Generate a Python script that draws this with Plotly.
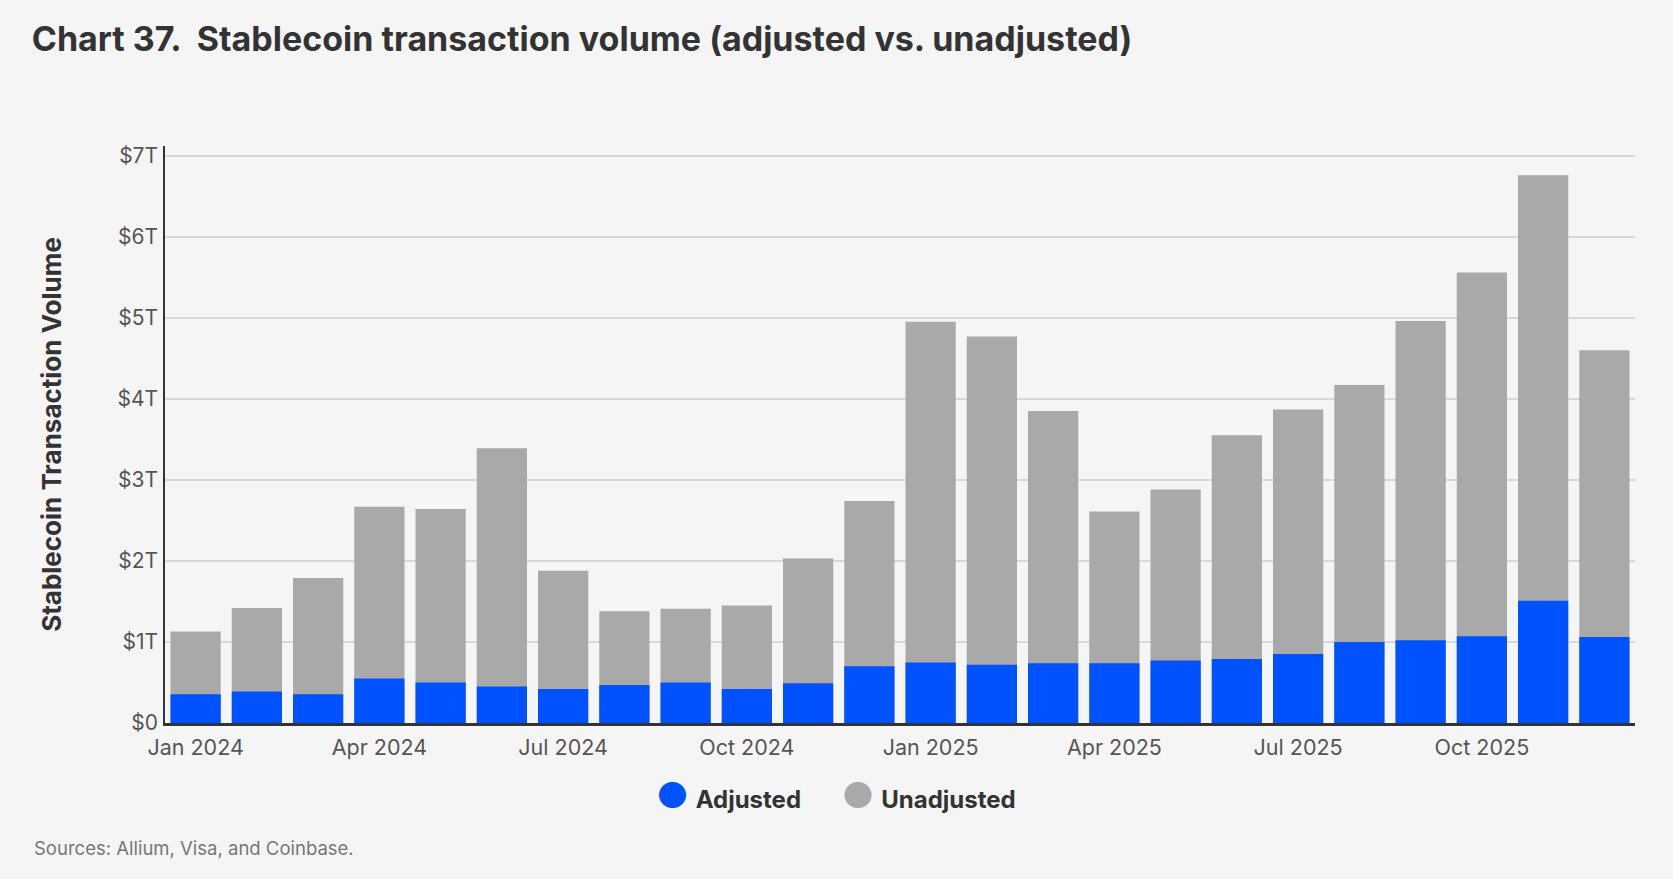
import plotly.graph_objs as go

# Data (trillions of USD)
months = ['Jan 2024', 'Feb 2024', 'Mar 2024', 'Apr 2024', 'May 2024', 'Jun 2024',
          'Jul 2024', 'Aug 2024', 'Sep 2024', 'Oct 2024', 'Nov 2024', 'Dec 2024',
          'Jan 2025', 'Feb 2025', 'Mar 2025', 'Apr 2025', 'May 2025', 'Jun 2025',
          'Jul 2025', 'Aug 2025', 'Sep 2025', 'Oct 2025', 'Nov 2025', 'Dec 2025']
unadjusted = [1.13, 1.42, 1.79, 2.67, 2.64, 3.39, 1.88, 1.38, 1.41, 1.45, 2.03, 2.74,
              4.95, 4.77, 3.85, 2.61, 2.88, 3.55, 3.87, 4.17, 4.96, 5.56, 6.76, 4.60]
adjusted = [0.355, 0.39, 0.355, 0.55, 0.50, 0.45, 0.42, 0.47, 0.50, 0.42, 0.49, 0.70,
            0.746, 0.72, 0.736, 0.736, 0.77, 0.79, 0.85, 1.00, 1.02, 1.07, 1.51, 1.06]
tick_months = months[::3]
y_ticks = [0, 1, 2, 3, 4, 5, 6, 7]
y_labels = ['$0', '$1T', '$2T', '$3T', '$4T', '$5T', '$6T', '$7T']

BLUE = '#0052ff'
GRAY = '#a9a9a9'
FONT = 'Inter'
PLOT_W, PLOT_H = 1470, 568  # plot area size in px, used to place notes

fig = go.Figure()

# Gray bars behind, blue bars in front (adjusted is a part of unadjusted)
fig.add_trace(go.Bar(x=months, y=unadjusted, marker=dict(color=GRAY, line=dict(width=0)),
                     name='Unadjusted', showlegend=False))
fig.add_trace(go.Bar(x=months, y=adjusted, marker=dict(color=BLUE, line=dict(width=0)),
                     name='Adjusted', showlegend=False))

fig.update_layout(
    width=1673, height=879,
    paper_bgcolor='#f5f5f5', plot_bgcolor='#f5f5f5',
    barmode='overlay', bargap=0.18,
    margin=dict(l=165, r=38, t=146, b=156),
    font=dict(family=FONT, color='#555555'),
    showlegend=False,
    title=dict(text='<b>Chart 37.  Stablecoin transaction volume (adjusted vs. unadjusted)</b>',
               x=0.019, xanchor='left', y=0.955, yanchor='middle',
               font=dict(family=FONT, size=34, color='#333333')),
    xaxis=dict(type='category', range=[-0.5, 23.5], tickmode='array',
               tickvals=tick_months, ticktext=tick_months, showgrid=False,
               showline=True, linecolor='#333333', linewidth=3,
               ticks='', tickfont=dict(size=21.5, color='#555555'), ticklabelstandoff=3),
    yaxis=dict(range=[0, 7.12], tickmode='array', tickvals=y_ticks, ticktext=y_labels,
               showgrid=True, gridcolor='#d8d8d8', gridwidth=2, zeroline=False,
               showline=True, linecolor='#333333', linewidth=1.5,
               ticks='', tickfont=dict(size=21, color='#555555'), ticklabelstandoff=1,
               title=dict(text='<b>Stablecoin Transaction Volume</b>', standoff=48,
                          font=dict(family=FONT, size=26, color='#333333'))),
)

# Legend with large round markers
legend_text = ('<span style="color:%s;font-size:36px">●</span> <b>Adjusted</b>'
               '      <span style="color:%s;font-size:36px">●</span> <b>Unadjusted</b>'
               % (BLUE, GRAY))
fig.add_annotation(text=legend_text, xref='paper', yref='paper',
                   x=(836 - 165) / PLOT_W, y=-71 / PLOT_H, xanchor='center', yanchor='middle',
                   showarrow=False, font=dict(family=FONT, size=24, color='#333333'))

fig.add_annotation(text='Sources: Allium, Visa, and Coinbase.', xref='paper', yref='paper',
                   x=(32 - 165) / PLOT_W, y=-123 / PLOT_H, xanchor='left', yanchor='middle',
                   showarrow=False, font=dict(family=FONT, size=18.5, color='#777777'))

fig.write_html('out.html', config={'displayModeBar': False},
               post_script="document.body.style.margin='0';"
                           "document.body.style.background='#f5f5f5';")
